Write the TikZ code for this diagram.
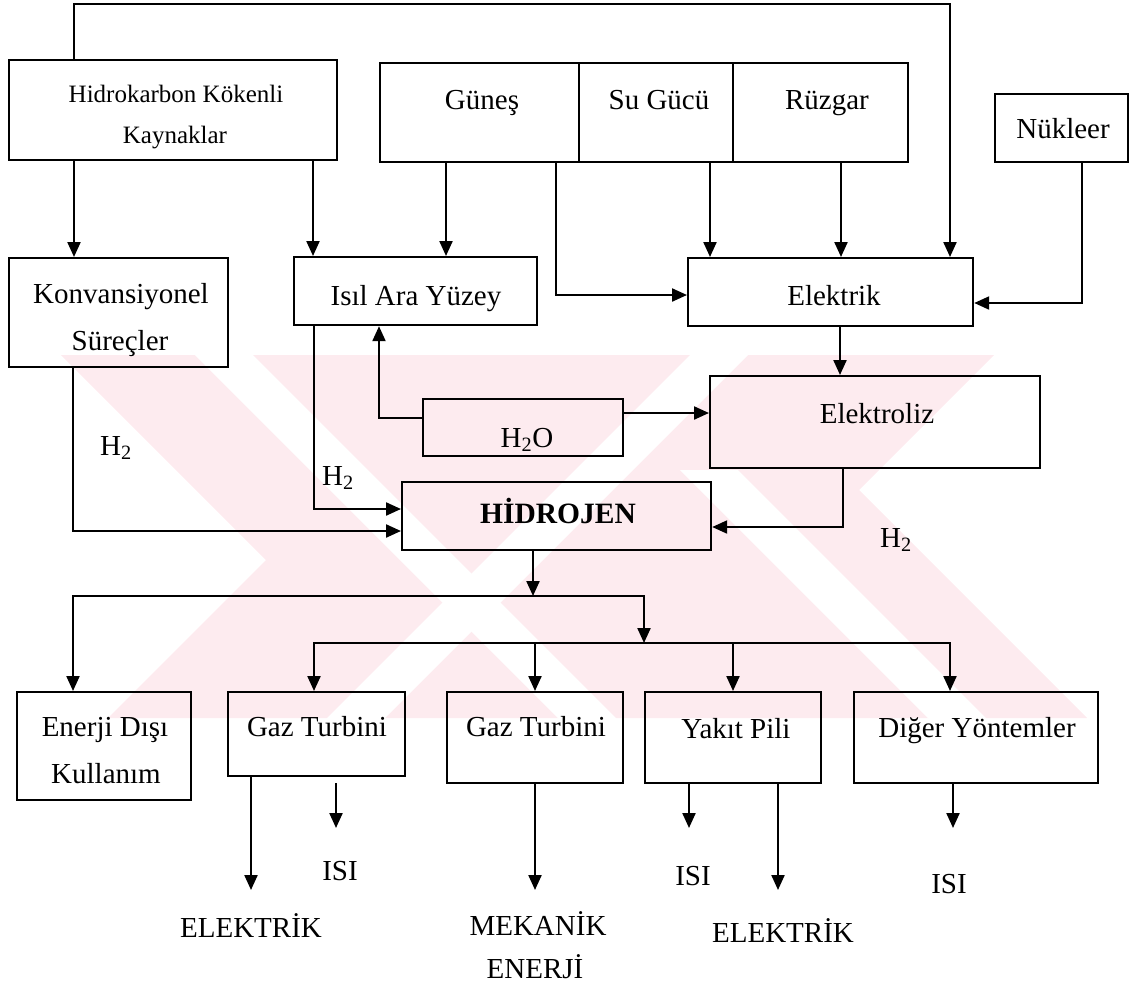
\documentclass[tikz,border=0pt]{standalone}
\usepackage{fontspec}
\setmainfont{Liberation Serif}
\usetikzlibrary{arrows.meta}
\definecolor{wm}{RGB}{253,235,239}
\tikzset{
  bx/.style={draw, line width=2.2pt, inner sep=0pt, anchor=north west},
  lbl/.style={inner sep=0pt, anchor=base, font=\fontsize{29}{34}\selectfont},
  small/.style={font=\fontsize{25}{30}\selectfont},
  ln/.style={line width=2.2pt},
  ar/.style={line width=2.2pt, -{Triangle[length=15pt,width=13pt]}},
}
\begin{document}
\begin{tikzpicture}[x=1pt,y=-1pt]
\useasboundingbox (0,0) rectangle (1129,986);
% watermark
\begin{scope}
\clip (55,355) rectangle (1100,718);
\fill[wm] (61,355) -- (994,355) -- (859,490) -- (1087,718) -- (108,718) -- (266,560) -- cycle;
\fill[white] (140,300) -- (198,300) -- (698,800) -- (640,800) -- cycle;
\fill[white] (745,300) -- (803,300) -- (303,800) -- (245,800) -- cycle;
\fill[white] (680,470) -- (738,470) -- (1068,800) -- (1010,800) -- cycle;
\end{scope}
% boxes
\node[bx, minimum width=328pt, minimum height=100pt] (hk) at (8,59) {};
\node[bx, minimum width=199pt, minimum height=99pt] (gun) at (379,62) {};
\node[bx, minimum width=154pt, minimum height=99pt] (su) at (578,62) {};
\node[bx, minimum width=175pt, minimum height=99pt] (ruz) at (732,62) {};
\node[bx, minimum width=133pt, minimum height=68pt] (nuk) at (994,93) {};
\node[bx, minimum width=219pt, minimum height=109pt] (konv) at (8,257) {};
\node[bx, minimum width=243pt, minimum height=68pt] (isil) at (293,256) {};
\node[bx, minimum width=285pt, minimum height=68pt] (el) at (687,257) {};
\node[bx, minimum width=200pt, minimum height=57pt] (h2o) at (422,398) {};
\node[bx, minimum width=330pt, minimum height=92pt] (elz) at (709,375) {};
\node[bx, minimum width=309pt, minimum height=68pt] (hid) at (401,481) {};
\node[bx, minimum width=174pt, minimum height=108pt] (en) at (16,691) {};
\node[bx, minimum width=177pt, minimum height=84pt] (gt1) at (227,691) {};
\node[bx, minimum width=176pt, minimum height=91pt] (gt2) at (446,691) {};
\node[bx, minimum width=176pt, minimum height=91pt] (yp) at (644,691) {};
\node[bx, minimum width=244pt, minimum height=91pt] (dig) at (853,691) {};
% texts
\node[lbl, small] (t1) at (176,102) {Hidrokarbon Kökenli};
\node[lbl, small] (t2) at (175,143) {Kaynaklar};
\node[lbl] (t3) at (482,109) {Güneş};
\node[lbl] (t4) at (659,109) {Su Gücü};
\node[lbl] (t5) at (827,109) {Rüzgar};
\node[lbl] (t6) at (1063,138) {Nükleer};
\node[lbl] (t7) at (121,303) {Konvansiyonel};
\node[lbl] (t8) at (120,350) {Süreçler};
\node[lbl] (t9) at (416,305) {Isıl Ara Yüzey};
\node[lbl] (t10) at (834,305) {Elektrik};
\node[lbl] (t11) at (877,423) {Elektroliz};
\node[lbl] (t12) at (527,447) {H\textsubscript{2}O};
\node[lbl, font=\fontsize{29.5}{34}\selectfont\bfseries] (t13) at (558,523) {HİDROJEN};
\node[lbl] (h2a) at (116,455) {H\textsubscript{2}};
\node[lbl] (h2b) at (338,485) {H\textsubscript{2}};
\node[lbl] (h2c) at (896,547) {H\textsubscript{2}};
\node[lbl] (t14) at (105,736) {Enerji Dışı};
\node[lbl] (t15) at (106,783) {Kullanım};
\node[lbl] (t16) at (317,736) {Gaz Turbini};
\node[lbl] (t17) at (536,736) {Gaz Turbini};
\node[lbl] (t18) at (736,738) {Yakıt Pili};
\node[lbl] (t19) at (977,737) {Diğer Yöntemler};
\node[lbl] (o1) at (340,880) {ISI};
\node[lbl] (o2) at (251,937) {ELEKTRİK};
\node[lbl] (o3) at (538,935) {MEKANİK};
\node[lbl] (o4) at (535,978) {ENERJİ};
\node[lbl] (o5) at (693,885) {ISI};
\node[lbl] (o6) at (783,942) {ELEKTRİK};
\node[lbl] (o7) at (949,893) {ISI};
% connectors
\draw[ar] (74,0 |- hk.north) -- (74,4) -| (950,0 |- el.north);
\draw[ar] (74,0 |- hk.south) -- (74,0 |- konv.north);
\draw[ar] (313,0 |- hk.south) -- (313,0 |- isil.north);
\draw[ar] (446,0 |- gun.south) -- (446,0 |- isil.north);
\draw[ar] (556,0 |- gun.south) |- (el.west |- 0,295);
\draw[ar] (710,0 |- su.south) -- (710,0 |- el.north);
\draw[ar] (841,0 |- ruz.south) -- (841,0 |- el.north);
\draw[ar] (1082,0 |- nuk.south) |- (el.east |- 0,303);
\draw[ar] (840,0 |- el.south) -- (840,0 |- elz.north);
\draw[ar] (h2o.east |- 0,413) -- (elz.west |- 0,413);
\draw[ar] (h2o.west |- 0,418) -| (379,0 |- isil.south);
\draw[ar] (314,0 |- isil.south) |- (hid.west |- 0,509);
\draw[ar] (73,0 |- konv.south) |- (hid.west |- 0,531);
\draw[ar] (843,0 |- elz.south) |- (hid.east |- 0,527);
\coordinate (j1) at (533,596);
\coordinate (j2) at (644,643);
\draw[ar] (j1 |- hid.south) -- (j1);
\draw[ar] (j1) -| (73,0 |- en.north);
\draw[ar] (j1) -| (j2);
\draw[ar] (j2) -| (314,0 |- gt1.north);
\draw[ar] (j2) -| (950,0 |- dig.north);
\draw[ar] (535,643) -- (535,0 |- gt2.north);
\draw[ar] (733,643) -- (733,0 |- yp.north);
% outputs
\coordinate (e1) at (251,890);
\coordinate (e2) at (336,828);
\coordinate (e3) at (535,890);
\coordinate (e4) at (689,828);
\coordinate (e5) at (778,890);
\coordinate (e6) at (953,828);
\draw[ar] (e1 |- gt1.south) -- (e1);
\draw[ar] (336,783) -- (e2);
\draw[ar] (e3 |- gt2.south) -- (e3);
\draw[ar] (e4 |- yp.south) -- (e4);
\draw[ar] (e5 |- yp.south) -- (e5);
\draw[ar] (e6 |- dig.south) -- (e6);
\end{tikzpicture}
\end{document}
